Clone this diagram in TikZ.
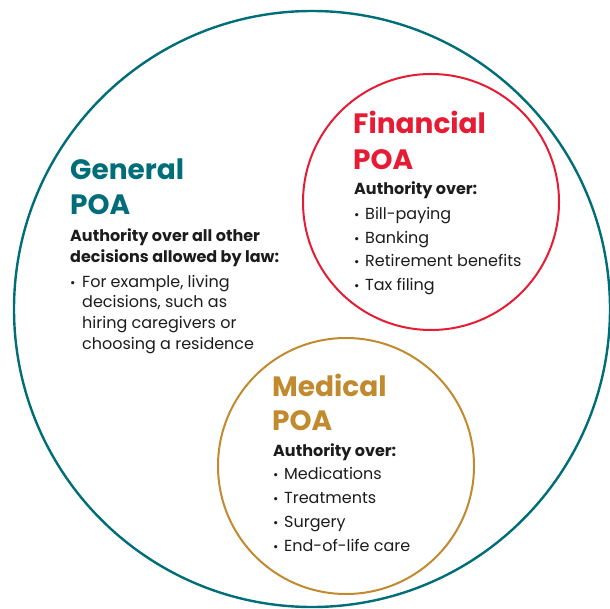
\documentclass[tikz,border=0pt]{standalone}
\usepackage{fontspec}
\setmainfont{Poppins}
\definecolor{teal}{RGB}{0,110,120}
\definecolor{finred}{RGB}{230,28,52}
\definecolor{gold}{RGB}{194,138,46}
\definecolor{ink}{RGB}{28,28,28}
\tikzset{
  head/.style={anchor=base west, inner sep=0pt, font=\fontsize{28}{28}\selectfont\bfseries},
  sub/.style={anchor=base west, inner sep=0pt, text=ink, font=\fontsize{16}{16}\selectfont\bfseries},
  item/.style={anchor=base west, inner sep=0pt, text=ink, font=\fontsize{16}{16}\selectfont},
  bul/.style={anchor=base west, inner sep=0pt, text=ink, font=\fontsize{13}{13}\selectfont}
}
\begin{document}
\begin{tikzpicture}[x=1pt,y=-1pt]
\useasboundingbox (0,0) rectangle (610,609);
% circles
\node (gen) [circle, draw=teal, line width=2.4pt, minimum size=596pt, inner sep=0pt] at (312,309) {};
\node (fin) [circle, draw=finred, line width=2pt, minimum size=256pt, inner sep=0pt] at (431,202) {};
\node (med) [circle, draw=gold, line width=2pt, minimum size=256pt, inner sep=0pt] at (346,466) {};
% General
\node (g1) [head, text=teal] at (70,180) {General};
\node (g2) [head, text=teal] at (70,215) {POA};
\node (g3) [sub] at (70,242) {Authority over all other};
\node (g4) [sub] at (70,263) {decisions allowed by law:};
\node (gb) [bul] at (70,288) {•};
\node (g5) [item] at (82,288) {For example, living};
\node (g6) [item] at (82,308) {decisions, such as};
\node (g7) [item] at (82,329) {hiring caregivers or};
\node (g8) [item] at (82,349) {choosing a residence};
% Financial
\node (f1) [head, text=finred] at (353,134) {Financial};
\node (f2) [head, text=finred] at (353,170) {POA};
\node (f3) [sub] at (354,195) {Authority over:};
\node (fb1) [bul] at (354,220) {•};
\node (f4) [item] at (365,220) {Bill-paying};
\node (fb2) [bul] at (354,244) {•};
\node (f5) [item] at (365,244) {Banking};
\node (fb3) [bul] at (354,267) {•};
\node (f6) [item] at (365,267) {Retirement benefits};
\node (fb4) [bul] at (354,291) {•};
\node (f7) [item] at (365,291) {Tax filing};
% Medical
\node (m1) [head, text=gold] at (272,396) {Medical};
\node (m2) [head, text=gold] at (272,430) {POA};
\node (m3) [sub] at (273,456) {Authority over:};
\node (mb1) [bul] at (273,479) {•};
\node (m4) [item] at (284,479) {Medications};
\node (mb2) [bul] at (273,503) {•};
\node (m5) [item] at (284,503) {Treatments};
\node (mb3) [bul] at (273,527) {•};
\node (m6) [item] at (284,527) {Surgery};
\node (mb4) [bul] at (273,551) {•};
\node (m7) [item] at (284,551) {End-of-life care};
\end{tikzpicture}
\end{document}
